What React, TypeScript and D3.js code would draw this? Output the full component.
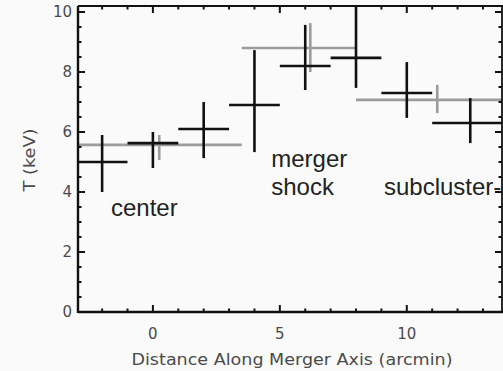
import React from "react";
import * as d3 from "d3";

// black bins: 2 arcmin wide profile
const blackX = [-2, 0, 2, 4, 6, 8, 10, 12.5];
const blackXLo = [-3, -1, 1, 3, 5, 7, 9, 11];
const blackXHi = [-1, 1, 3, 5, 7, 9, 11, 14];
const blackT = [5.0, 5.63, 6.1, 6.9, 8.2, 8.47, 7.3, 6.3];
const blackTLo = [4.0, 4.8, 5.13, 5.33, 7.4, 7.47, 6.47, 5.63];
const blackTHi = [5.9, 6.0, 7.0, 8.73, 9.57, 10.6, 8.33, 7.13];

// gray: wide regions
const grayX = [0.25, 6.2, 11.2];
const grayXLo = [-3, 3.5, 8];
const grayXHi = [3.5, 8, 14.4];
const grayT = [5.57, 8.8, 7.07];
const grayTLo = [5.07, 8.0, 6.63];
const grayTHi = [5.9, 9.63, 7.57];

const xTicks = [0, 5, 10];
const xMinor = [-2, -1, 1, 2, 3, 4, 6, 7, 8, 9, 11, 12, 13];
const yTicks = [0, 2, 4, 6, 8, 10];
const yMinor = d3.range(0.5, 10.1, 0.5).filter((v) => v % 2 !== 0);

const labels = [
	{ text: "center", x: -1.65, t: 3.2 },
	{ text: "merger", x: 4.66, t: 4.85 },
	{ text: "shock", x: 4.66, t: 3.9 },
	{ text: "subcluster-", x: 9.1, t: 3.9 },
];

const W = 503;
const H = 371;
const left = 78;
const right = 502;
const top = 6;
const bottom = 312;

const x = d3.scaleLinear().domain([-2.95, 13.75]).range([left, right]);
const y = d3.scaleLinear().domain([0, 10.2]).range([bottom, top]);

const axisFont = "'DejaVu Sans', sans-serif";
const textFill = "#4a4a4a";

function Cross(props: { cx: number; xl: number; xh: number; t: number; tl: number; th: number; color: string }) {
	const { cx, xl, xh, t, tl, th, color } = props;
	return (
		<g stroke={color} strokeWidth={2.6} strokeLinecap="butt">
			<line x1={x(xl)} x2={x(xh)} y1={y(t)} y2={y(t)} />
			<line x1={x(cx)} x2={x(cx)} y1={y(tl)} y2={y(th)} />
		</g>
	);
}

export default function App() {
	return (
		<svg width={W} height={H} style={{ display: "block", position: "absolute", left: 0, top: 0, background: "#fafafa" }}>
			<defs>
				<clipPath id="plot">
					<rect x={left} y={top} width={right - left} height={bottom - top} />
				</clipPath>
			</defs>
			<rect width={W} height={H} fill="#fafafa" />
			<g clipPath="url(#plot)">
				{grayX.map((v, i) => (
					<Cross key={"g" + i} cx={v} xl={grayXLo[i]} xh={grayXHi[i]} t={grayT[i]} tl={grayTLo[i]} th={grayTHi[i]} color="#9c9c9c" />
				))}
				{blackX.map((v, i) => (
					<Cross key={"b" + i} cx={v} xl={blackXLo[i]} xh={blackXHi[i]} t={blackT[i]} tl={blackTLo[i]} th={blackTHi[i]} color="#111" />
				))}
			</g>
			{/* frame */}
			<g stroke="#111" fill="none">
				<line x1={left} x2={right + 2} y1={bottom} y2={bottom} strokeWidth={2.4} />
				<line x1={left} x2={left} y1={top} y2={bottom + 1} strokeWidth={2.4} />
				<line x1={left} x2={right + 2} y1={top} y2={top} strokeWidth={1.8} />
				<line x1={right} x2={right} y1={top} y2={bottom} strokeWidth={1.8} />
			</g>
			<g stroke="#111" strokeWidth={2}>
				{xTicks.map((v) => (
					<g key={"xt" + v}>
						<line x1={x(v)} x2={x(v)} y1={bottom} y2={bottom - 7} />
						<line x1={x(v)} x2={x(v)} y1={top} y2={top + 7} />
					</g>
				))}
				{xMinor.map((v) => (
					<g key={"xm" + v}>
						<line x1={x(v)} x2={x(v)} y1={bottom} y2={bottom - 3.5} />
						<line x1={x(v)} x2={x(v)} y1={top} y2={top + 3.5} />
					</g>
				))}
				{yTicks.map((v) => (
					<g key={"yt" + v}>
						<line x1={left} x2={left + 7} y1={y(v)} y2={y(v)} />
						<line x1={right} x2={right - 7} y1={y(v)} y2={y(v)} />
					</g>
				))}
				{yMinor.map((v) => (
					<g key={"ym" + v}>
						<line x1={left} x2={left + 3.5} y1={y(v)} y2={y(v)} />
						<line x1={right} x2={right - 3.5} y1={y(v)} y2={y(v)} />
					</g>
				))}
			</g>
			{/* tick labels */}
			<g fontFamily={axisFont} fontSize={15} fill={textFill}>
				{yTicks.map((v) => (
					<text key={"yl" + v} x={left - 6} y={y(v)} dy="0.36em" textAnchor="end">
						{v}
					</text>
				))}
				{xTicks.map((v) => (
					<text key={"xl" + v} x={x(v)} y={339} textAnchor="middle">
						{v}
					</text>
				))}
			</g>
			<text
				x={292}
				y={365}
				textAnchor="middle"
				fontFamily={axisFont}
				fontSize={16}
				fill={textFill}
				textLength={321}
				lengthAdjust="spacingAndGlyphs"
			>
				Distance Along Merger Axis (arcmin)
			</text>
			<text
				transform="translate(35,160) rotate(-90)"
				textAnchor="middle"
				fontFamily={axisFont}
				fontSize={15}
				fill={textFill}
				textLength={63}
				lengthAdjust="spacingAndGlyphs"
			>
				T (keV)
			</text>
			{/* annotations */}
			<g fontFamily="'Liberation Sans', Arial, sans-serif" fontSize={24} fill="#222">
				{labels.map((l) => (
					<text key={l.text} x={x(l.x)} y={y(l.t)}>
						{l.text}
					</text>
				))}
			</g>
		</svg>
	);
}
